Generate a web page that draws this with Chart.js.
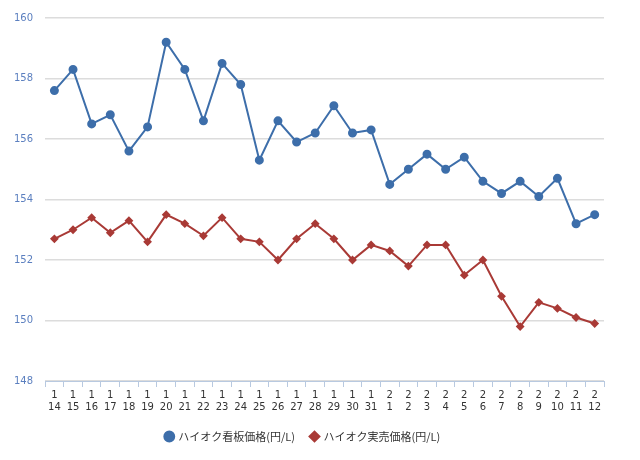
<!DOCTYPE html>
<html>
<head>
<meta charset="utf-8">
<script src="https://cdn.jsdelivr.net/npm/chart.js@4"></script>
<style>
  html, body { margin: 0; padding: 0; background: #fff; }
  #wrap { width: 640px; height: 460px; position: relative; }
</style>
</head>
<body>
<div id="wrap"><canvas id="chart"></canvas></div>
<script>
// categories: [month, day]
const months = ['1','1','1','1','1','1','1','1','1','1','1','1','1','1','1','1','1','1','2','2','2','2','2','2','2','2','2','2','2','2'];
const days = ['14','15','16','17','18','19','20','21','22','23','24','25','26','27','28','29','30','31','1','2','3','4','5','6','7','8','9','10','11','12'];
const signPrice = [157.6, 158.3, 156.5, 156.8, 155.6, 156.4, 159.2, 158.3, 156.6, 158.5, 157.8, 155.3, 156.6, 155.9, 156.2, 157.1, 156.2, 156.3, 154.5, 155.0, 155.5, 155.0, 155.4, 154.6, 154.2, 154.6, 154.1, 154.7, 153.2, 153.5];
const actualPrice = [152.7, 153.0, 153.4, 152.9, 153.3, 152.6, 153.5, 153.2, 152.8, 153.4, 152.7, 152.6, 152.0, 152.7, 153.2, 152.7, 152.0, 152.5, 152.3, 151.8, 152.5, 152.5, 151.5, 152.0, 150.8, 149.8, 150.6, 150.4, 150.1, 149.9];
const yTicks = [148, 150, 152, 154, 156, 158, 160];

const labels = months.map((m, i) => [m, days[i]]);

new Chart(document.getElementById('chart'), {
    type: 'line',
    data: {
        labels: labels,
        datasets: [{
            label: 'ハイオク看板価格(円/L)',
            data: signPrice,
            borderColor: '#3d6eaa',
            backgroundColor: '#3d6eaa',
            pointStyle: 'circle',
            pointRadius: 3.5,
            borderWidth: 2
        }, {
            label: 'ハイオク実売価格(円/L)',
            data: actualPrice,
            borderColor: '#a93a36',
            backgroundColor: '#a93a36',
            pointStyle: 'rectRot',
            pointRadius: 3,
            borderWidth: 2
        }]
    },
    options: {
        responsive: true,
        maintainAspectRatio: false,
        animation: false,
        layout: { padding: { left: 2, right: 36, top: 4, bottom: 8 } },
        scales: {
            x: {
                offset: true,
                grid: { display: true, drawOnChartArea: false, drawTicks: true, tickLength: 6, color: '#b8c9e0', offset: true },
                border: { color: '#b8c9e0' },
                ticks: { color: '#333', font: { family: 'DejaVu Sans', size: 10 }, maxRotation: 0, autoSkip: false, padding: 2 }
            },
            y: {
                min: 148, max: 160,
                afterBuildTicks: (axis) => { axis.ticks = yTicks.map(v => ({ value: v })); },
                grid: { color: '#dcdcdc', lineWidth: 1.5, drawTicks: false },
                border: { display: false },
                ticks: { color: '#5b7fbf', font: { family: 'DejaVu Sans', size: 10 }, padding: 12 }
            }
        },
        plugins: {
            legend: {
                position: 'bottom',
                labels: {
                    usePointStyle: true,
                    boxWidth: 7, boxHeight: 7,
                    color: '#333',
                    padding: 16,
                    font: { family: 'Noto Sans CJK JP', size: 11 }
                }
            },
            tooltip: { enabled: false }
        }
    }
});
</script>
</body>
</html>
